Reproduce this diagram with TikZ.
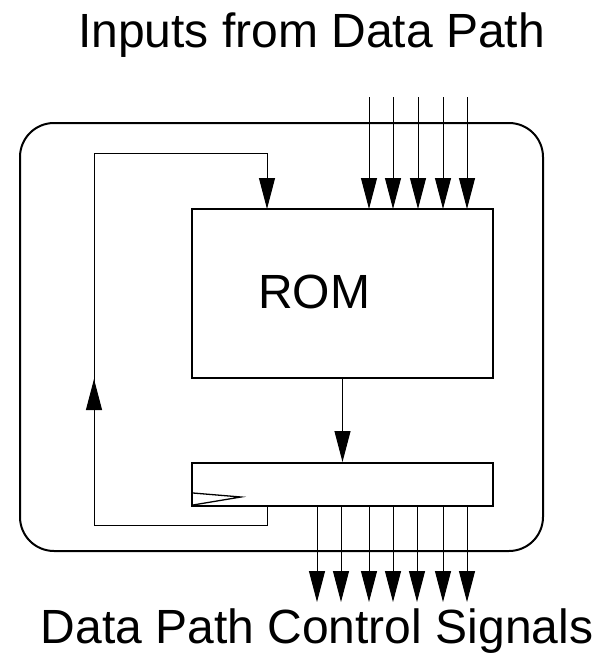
\documentclass[tikz,border=0pt]{standalone}
\usepackage{fontspec}
\setmainfont{Liberation Sans}
\usetikzlibrary{arrows.meta}

\begin{document}
\begin{tikzpicture}[x=1pt,y=-1pt,line join=miter,
  lbl/.style={font=\fontsize{48}{58}\selectfont,inner sep=0pt},
  box/.style={draw,line width=2pt,minimum width=301pt,inner sep=0pt},
  wire/.style={line width=1pt},
  sig/.style={wire,-{Triangle[length=31pt,width=16pt]}}]
  \useasboundingbox (0,0) rectangle (607,653);

  % ===== controller frame =====
  \draw[line width=2pt,rounded corners=34pt] (20,123) rectangle (543,551);

  % ===== ROM and state register =====
  \node[box,minimum height=169pt] (rom) at (342.5,293.5) {};
  \node[lbl,anchor=base] (romtxt) at (314,308) {ROM};
  \node[box,minimum height=43pt] (reg) at (342.5,484.5) {};
  % clock input
  \draw[line width=1.3pt] (193,493) -- (241,497) -- (193,505);

  % ===== titles =====
  \node[lbl,anchor=base] (intitle) at (311.5,47) {Inputs from Data Path};
  \node[lbl,anchor=base] (outtitle) at (317,643) {Data Path Control Signals};

  % ===== inputs into the ROM =====
  \foreach \x in {369,393,418,443,467}{
    \draw[sig] (\x,97) -- (\x,209);
  }

  % ===== ROM output to the register =====
  \draw[sig] (rom.south) -- (reg.north);

  % ===== feedback of the state to the ROM =====
  \coordinate (fbout) at (267,506);
  \coordinate (fbin) at (267,209);
  \draw[wire] (fbout) -- (267,525) -- (94,525) -- (94,379);
  \draw[sig] (94,410) -- (94,379);
  \draw[wire] (94,379) -- (94,153) -- (267,153);
  \draw[sig] (267,153) -- (fbin);

  % ===== control signals out =====
  \foreach \x in {317,341,369,393,417,443,467}{
    \draw[sig] (\x,506) -- (\x,602);
  }
\end{tikzpicture}
\end{document}
